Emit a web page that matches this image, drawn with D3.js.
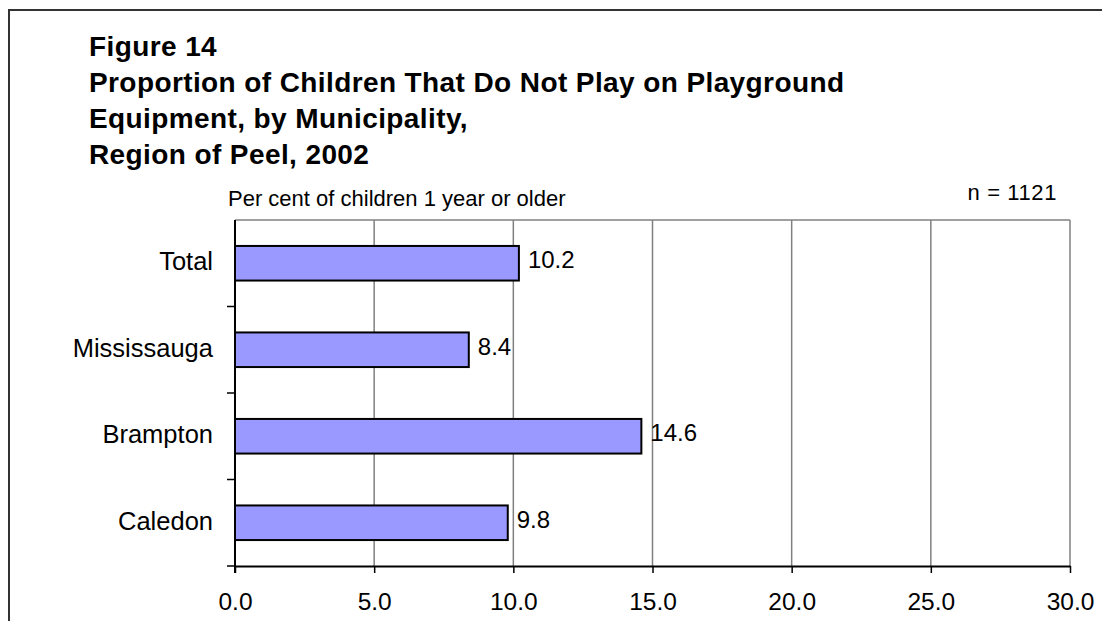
<!DOCTYPE html>
<html>
<head>
<meta charset="utf-8">
<script src="https://cdn.jsdelivr.net/npm/d3@7"></script>
<style>
  html, body { margin: 0; padding: 0; background: #fff; }
  svg { display: block; }
  text { font-family: Arial, "Liberation Sans", sans-serif; fill: #000; }
</style>
</head>
<body>
<svg id="chart" width="1102" height="621"></svg>
<script>
// Municipalities and share of children that do not play on playground equipment (%)
const categories = ["Total", "Mississauga", "Brampton", "Caledon"];
const values = [10.2, 8.4, 14.6, 9.8];
const xTicks = [0, 5, 10, 15, 20, 25, 30];
const titleLines = [
  "Figure 14",
  "Proportion of Children That Do Not Play on Playground",
  "Equipment, by Municipality,",
  "Region of Peel, 2002"
];
const axisCaption = "Per cent of children 1 year or older";
const sampleNote = "n = 1121";

const svg = d3.select("#chart");

// outer frame
svg.append("rect")
  .attr("x", 9).attr("y", 10)
  .attr("width", 1110).attr("height", 630)
  .attr("fill", "none").attr("stroke", "#333").attr("stroke-width", 2);

// title block
svg.append("g").selectAll("text")
  .data(titleLines)
  .join("text")
  .attr("x", 89)
  .attr("y", (d, i) => 56 + i * 36)
  .attr("font-size", 28)
  .attr("font-weight", "bold")
  .attr("letter-spacing", "0.4px")
  .text(d => d);

const plotLeft = 235, plotRight = 1070, plotTop = 220, plotBottom = 566;

const x = d3.scaleLinear().domain([0, 30]).range([plotLeft, plotRight]);
const y = d3.scaleBand().domain(categories).range([plotTop, plotBottom])
  .paddingInner(0.6).paddingOuter(0.3);

svg.append("text")
  .attr("x", 228).attr("y", 206)
  .attr("font-size", 22)
  .text(axisCaption);

svg.append("text")
  .attr("x", 1057).attr("y", 200)
  .attr("text-anchor", "end")
  .attr("font-size", 22)
  .attr("letter-spacing", "0.6px")
  .text(sampleNote);

// plot-area top edge
svg.append("line")
  .attr("x1", plotLeft).attr("x2", plotRight)
  .attr("y1", plotTop).attr("y2", plotTop)
  .attr("stroke", "#808080").attr("stroke-width", 1.5);

// vertical gridlines
svg.append("g").selectAll("line")
  .data(xTicks.filter(t => t > 0))
  .join("line")
  .attr("x1", d => x(d)).attr("x2", d => x(d))
  .attr("y1", plotTop).attr("y2", plotBottom)
  .attr("stroke", "#808080").attr("stroke-width", 1.5);

// bars
svg.append("g").selectAll("rect")
  .data(categories)
  .join("rect")
  .attr("x", x(0))
  .attr("y", d => y(d))
  .attr("width", (d, i) => x(values[i]) - x(0))
  .attr("height", y.bandwidth())
  .attr("fill", "#9999FF")
  .attr("stroke", "#000")
  .attr("stroke-width", 2);

// value labels
svg.append("g").selectAll("text")
  .data(categories)
  .join("text")
  .attr("x", (d, i) => x(values[i]) + 9)
  .attr("y", d => y(d) + y.bandwidth() / 2)
  .attr("dy", "0.2em")
  .attr("font-size", 24)
  .text((d, i) => values[i].toFixed(1));

// x axis
const xAxis = svg.append("g")
  .attr("transform", `translate(0,${plotBottom})`)
  .call(d3.axisBottom(x).tickValues(xTicks).tickSize(7).tickSizeOuter(0)
    .tickPadding(20).tickFormat(d3.format(".1f")));
xAxis.select(".domain").attr("stroke", "#000").attr("stroke-width", 2);
xAxis.selectAll(".tick line").attr("stroke", "#000").attr("stroke-width", 1.5);
xAxis.selectAll(".tick text")
  .attr("font-size", 24.5)
  .attr("font-family", "Arial, 'Liberation Sans', sans-serif")
  .attr("fill", "#000");

// y axis line
svg.append("line")
  .attr("x1", plotLeft).attr("x2", plotLeft)
  .attr("y1", plotTop).attr("y2", plotBottom + 7)
  .attr("stroke", "#000").attr("stroke-width", 2);

// category boundary ticks
const step = y.step();
svg.append("g").selectAll("line")
  .data(d3.range(1, categories.length + 1))
  .join("line")
  .attr("x1", plotLeft - 8).attr("x2", plotLeft)
  .attr("y1", i => plotTop + i * step)
  .attr("y2", i => plotTop + i * step)
  .attr("stroke", "#000").attr("stroke-width", 1.5);

// category labels
svg.append("g").selectAll("text")
  .data(categories)
  .join("text")
  .attr("x", 213)
  .attr("y", d => y(d) + y.bandwidth() / 2)
  .attr("dy", "0.27em")
  .attr("text-anchor", "end")
  .attr("font-size", 25.5)
  .text(d => d);
</script>
</body>
</html>
